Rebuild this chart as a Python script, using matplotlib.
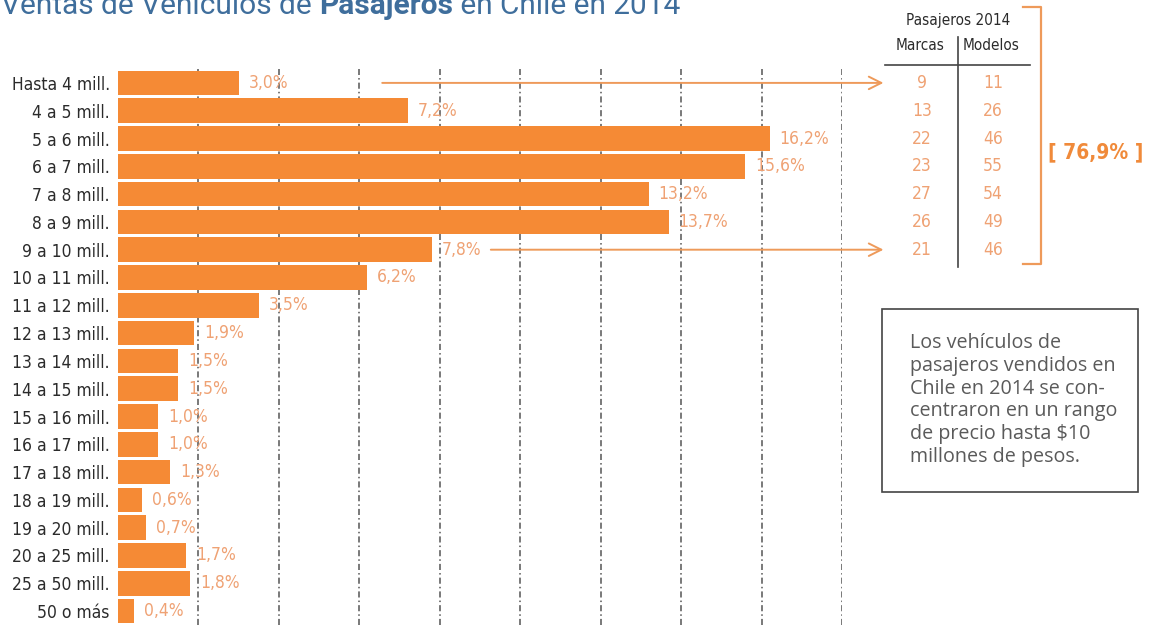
import numpy as np
import matplotlib
matplotlib.use("Agg")
import matplotlib.pyplot as plt
from matplotlib import font_manager as fm
from matplotlib import transforms

# data
categories = ["Hasta 4 mill.", "4 a 5 mill.", "5 a 6 mill.", "6 a 7 mill.", "7 a 8 mill.",
              "8 a 9 mill.", "9 a 10 mill.", "10 a 11 mill.", "11 a 12 mill.", "12 a 13 mill.",
              "13 a 14 mill.", "14 a 15 mill.", "15 a 16 mill.", "16 a 17 mill.", "17 a 18 mill.",
              "18 a 19 mill.", "19 a 20 mill.", "20 a 25 mill.", "25 a 50 mill.", "50 o más"]
shares = [3.0, 7.2, 16.2, 15.6, 13.2, 13.7, 7.8, 6.2, 3.5, 1.9,
          1.5, 1.5, 1.0, 1.0, 1.3, 0.6, 0.7, 1.7, 1.8, 0.4]
marcas = [9, 13, 22, 23, 27, 26, 21]
modelos = [11, 26, 46, 55, 54, 49, 46]
total_share = "[ 76,9% ]"
grid_ticks = [2, 4, 6, 8, 10, 12, 14, 16, 18]
note_lines = ["Los vehículos de", "pasajeros vendidos en", "Chile en 2014 se con-",
              "centraron en un rango", "de precio hasta $10", "millones de pesos."]

bar_color = "#F58A35"
label_orange = "#EFA274"
line_orange = "#EE9A5A"

# a narrow font if one is installed, otherwise plain DejaVu Sans a bit smaller
cond_file = None
cond_bold_file = None
for f in fm.fontManager.ttflist:
    narrow = "Narrow" in f.name or "Condensed" in f.name or f.stretch in ("condensed", "semi-condensed")
    if narrow and f.style == "normal":
        if f.weight in (400, "normal", "regular") and cond_file is None:
            cond_file = f.fname
        if f.weight in (700, "bold") and cond_bold_file is None:
            cond_bold_file = f.fname
if cond_file:
    def cfont(size, bold=False):
        fn = cond_bold_file if (bold and cond_bold_file) else cond_file
        return fm.FontProperties(fname=fn, size=size)
else:
    def cfont(size, bold=False):
        return fm.FontProperties(family="DejaVu Sans", size=size * 0.85,
                                 weight="bold" if bold else "normal")

W, H = 1149, 626
fig = plt.figure(figsize=(W / 100, H / 100), dpi=100)

def fx(px):
    return px / W

def fy(py):
    return 1 - py / H

ax = fig.add_axes([fx(118), fy(625), fx(842) - fx(118), fy(69) - fy(625)])
y = np.arange(len(categories))
ax.barh(y, shares, height=0.88, color=bar_color, zorder=2)
ax.set_xlim(0, 18)
ax.set_ylim(len(categories) - 0.5, -0.5)
for g in grid_ticks:
    ax.axvline(g, color="#555555", lw=1.1, ls=(0, (4, 2, 1, 2)), zorder=1)
for s in ax.spines.values():
    s.set_visible(False)
ax.set_xticks([])
ax.set_yticks(y)
ax.set_yticklabels(categories, fontproperties=cfont(12.5), color="#2b2b2b")
ax.tick_params(axis="y", length=0, pad=6)

for i, v in enumerate(shares):
    ax.text(v + 0.24, i, ("%.1f%%" % v).replace(".", ","), va="center", ha="left",
            fontproperties=cfont(12.5), color=label_orange, zorder=3)

# arrows from rows 1 and 7 to the table
for row, x0 in [(0, 6.5), (6, 9.2)]:
    ax.annotate("", xy=(19.1, row), xytext=(x0, row), xycoords="data",
                arrowprops=dict(arrowstyle="->,head_length=0.9,head_width=0.45",
                                color=line_orange, lw=1.4), annotation_clip=False)

# table on the right: x in figure coords, y in data rows
tr = transforms.blended_transform_factory(fig.transFigure, ax.transData)
fig.text(fx(958), fy(21), "Pasajeros 2014", ha="center", va="center",
         fontproperties=cfont(11), color="#2b2b2b")
fig.text(fx(920), fy(45), "Marcas", ha="center", va="center",
         fontproperties=cfont(11), color="#2b2b2b")
fig.text(fx(991), fy(45), "Modelos", ha="center", va="center",
         fontproperties=cfont(11), color="#2b2b2b")
for i, (a, b) in enumerate(zip(marcas, modelos)):
    ax.text(fx(922), i, str(a), transform=tr, ha="center", va="center",
            fontproperties=cfont(12.5), color=label_orange, clip_on=False)
    ax.text(fx(993), i, str(b), transform=tr, ha="center", va="center",
            fontproperties=cfont(12.5), color=label_orange, clip_on=False)

fig.add_artist(plt.Line2D([fx(885), fx(1030)], [fy(65), fy(65)], color="#444444", lw=1.2))
fig.add_artist(plt.Line2D([fx(958), fx(958)], [fy(37), fy(267)], color="#444444", lw=1.2))
fig.add_artist(plt.Line2D([fx(1023), fx(1041), fx(1041), fx(1023)],
                          [fy(7), fy(7), fy(264), fy(264)], color=line_orange, lw=1.6))
fig.text(fx(1096), fy(152), total_share, ha="center", va="center",
         fontproperties=cfont(15, bold=True), color="#F08A3A")

# note box
fig.add_artist(plt.Rectangle((fx(882), fy(492)), fx(1138) - fx(882), fy(309) - fy(492),
                             fill=False, ec="#444444", lw=1.2))
for k, line in enumerate(note_lines):
    fig.text(fx(910), fy(343 + 22.8 * k), line, ha="left", va="center", family="Open Sans",
             fontsize=14.2, color="#5a5a5a")

# title, partly cut at the top like the source
renderer = fig.canvas.get_renderer()
title_parts = [("Ventas de Vehículos de ", "normal"), ("Pasajeros", "bold"),
               (" en Chile en 2014", "normal")]
x = fx(1)
for txt, wt in title_parts:
    t = fig.text(x, fy(14), txt, ha="left", va="baseline", family="Roboto",
                 fontsize=21.5, fontweight=wt, color="#3F6E9C")
    bb = t.get_window_extent(renderer)
    x += bb.width / W

fig.savefig("out.png", dpi=100)
